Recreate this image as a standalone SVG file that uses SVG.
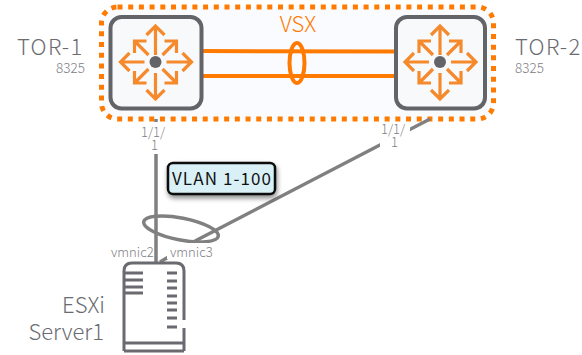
<svg xmlns="http://www.w3.org/2000/svg" width="582" height="355" viewBox="0 0 582 355">
<defs>
<style>
text{font-family:"Noto Sans CJK KR","Noto Sans",sans-serif;fill:#6a6b70;font-weight:300}
.lnk{stroke:#808080;stroke-width:3.500;fill:none}
.vsx{stroke:#ff7a00;stroke-width:4;fill:none}
.sw{fill:#f8f9fb;stroke:#636468;stroke-width:4}
.ar{stroke:#f58a2c;stroke-width:3.200;fill:none}
.srv{stroke:#6a6b70;stroke-width:3;fill:none}
.port{font-size:13px;fill:#808186}
.big{font-size:22px;letter-spacing:1.300px}
.sub{font-size:13.500px;fill:#808186}
</style>
<filter id="sh" x="-20%" y="-30%" width="140%" height="170%"><feDropShadow dx="1" dy="3" stdDeviation="2.500" flood-color="#000" flood-opacity=".45"/></filter>
<g id="arrows">
<path class="ar" d="M0-7V-36M-9-27L0-36L9-27M0 11V37M-9 28L0 37L9 28M-11 0H-35M-26-9L-35 0L-26 9M11 0H36M27-9L36 0L27 9"/>
<path class="ar" d="M-7-7L-21-21M-21-9V-21H-9M7-7L21-21M9-21H21V-9M-7 7L-21 21M-21 9V21H-9M7 7L21 21M9 21H21V9"/>
<circle r="6" fill="#636468"/>
</g>
</defs>
<rect width="582" height="355" fill="#fff"/>
<rect id="vsx-box" x="101.500" y="7" width="392" height="112" rx="16" fill="#fafbff" stroke="#ff7a00" stroke-width="5" stroke-dasharray="5 5.700"/>
<g id="connectors">
<path class="vsx" d="M201 51L396 51.500M201 76L396 76"/>
<ellipse class="vsx" cx="297" cy="63" rx="7.500" ry="20"/>
<path class="lnk" d="M156 119V262M430 119L197 240L160 262"/>
<ellipse cx="181" cy="229" rx="38" ry="11" transform="rotate(11 181 229)" fill="none" stroke="#808080" stroke-width="3.500"/>
</g>
<g id="tor1">
<rect class="sw" x="110.500" y="17" width="91" height="91.500" rx="11"/>
<use href="#arrows" x="155.500" y="62"/>
<text class="big" x="17" y="55">TOR-1</text>
<text class="sub" x="56" y="73">8325</text>
</g>
<g id="tor2">
<rect class="sw" x="396" y="17" width="89" height="91.500" rx="11"/>
<use href="#arrows" x="440" y="62"/>
<text class="big" x="515" y="55">TOR-2</text>
<text class="sub" x="515" y="73">8325</text>
</g>
<g id="labels">
<rect x="140" y="122" width="30" height="32" fill="#fff"/>
<rect x="380" y="122" width="30" height="33" fill="#fff"/>
<text class="port" x="141" y="137">1/1/<tspan x="151" dy="13">1</tspan></text>
<text class="port" x="381" y="134">1/1/<tspan x="391" dy="13">1</tspan></text>
<rect x="167" y="243" width="48" height="16" fill="#fff"/>
<text class="port" x="111" y="257">vmnic2</text>
<text class="port" x="170" y="257">vmnic3</text>
<text x="298" y="32" text-anchor="middle" font-size="22" style="fill:#ff7a00">VSX</text>
</g>
<g id="vlan">
<rect x="168" y="163" width="107" height="31" rx="5" fill="#d9f0f7" stroke="#111" stroke-width="2.500" filter="url(#sh)"/>
<text x="172" y="185" font-size="17" letter-spacing="1.100" style="fill:#111;font-weight:400">VLAN 1-100</text>
</g>
<g id="server">
<path class="srv" d="M124 351V271Q124 263 132 263H176Q184 263 184 271V320M184 328V351M124 343H184M124 351H184"/>
<path class="srv" d="M125 273H143M125 280H143M125 287H143M125 293H143M167 273H177M167 281H177M167 288H177M167 296H177M167 303H177M167 310H177M167 318H177M167 327H177"/>
<text x="105" y="313" text-anchor="end" font-size="22">ESXi</text>
<text x="104" y="340" text-anchor="end" font-size="22">Server1</text>
</g>
</svg>
